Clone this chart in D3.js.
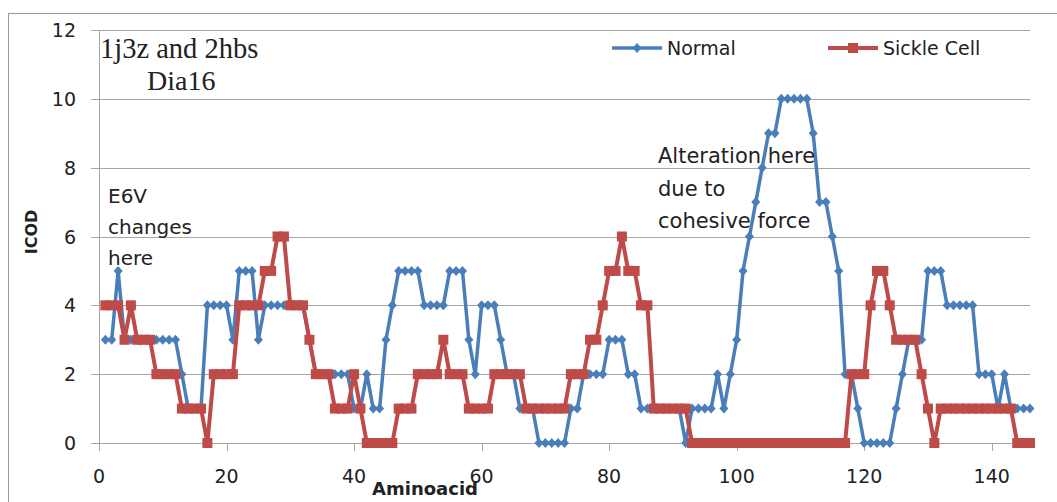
<!DOCTYPE html>
<html>
<head>
<meta charset="utf-8">
<script src="https://cdn.jsdelivr.net/npm/d3@7"></script>
<style>
body { margin: 0; background: #fff; }
text { font-family: "DejaVu Sans", sans-serif; fill: #222; }
</style>
</head>
<body>
<div id="chart"></div>
<script>
// ICOD per aminoacid position (1..146)
var normal = [
    3,3,5,3,3,3,3,3,3,3,3,3,
    2,1,1,1,4,4,4,4,3,5,5,5,
    3,4,4,4,4,4,4,4,3,2,2,2,
    2,2,2,1,1,2,1,1,3,4,5,5,
    5,5,4,4,4,4,5,5,5,3,2,4,
    4,4,3,2,2,1,1,1,0,0,0,0,
    0,1,1,2,2,2,2,3,3,3,2,2,
    1,1,1,1,1,1,1,0,1,1,1,1,
    2,1,2,3,5,6,7,8,9,9,10,10,
    10,10,10,9,7,7,6,5,2,2,1,0,
    0,0,0,0,1,2,3,3,3,5,5,5,
    4,4,4,4,4,2,2,2,1,2,1,1,
    1,1
];
var sickle = [
    4,4,4,3,4,3,3,3,2,2,2,2,
    1,1,1,1,0,2,2,2,2,4,4,4,
    4,5,5,6,6,4,4,4,3,2,2,2,
    1,1,1,2,1,0,0,0,0,0,1,1,
    1,2,2,2,2,3,2,2,2,1,1,1,
    1,2,2,2,2,2,1,1,1,1,1,1,
    1,2,2,2,3,3,4,5,5,6,5,5,
    4,4,1,1,1,1,1,1,0,0,0,0,
    0,0,0,0,0,0,0,0,0,0,0,0,
    0,0,0,0,0,0,0,0,0,2,2,2,
    4,5,5,4,3,3,3,3,2,1,0,1,
    1,1,1,1,1,1,1,1,1,1,1,0,
    0,0
];
var seriesNames = ["Normal", "Sickle Cell"];
var xTicks = [0, 20, 40, 60, 80, 100, 120, 140];
var yTicks = [0, 2, 4, 6, 8, 10, 12];

var width = 1057;
var height = 502;
var margin = { top: 30, right: 27, bottom: 59, left: 99 };

var blue = "#4a7ebb";
var red = "#be4b48";
var grid = "#a6a6a6";

var svg = d3.select("#chart")
    .append("svg")
    .attr("width", width)
    .attr("height", height);

// outer chart frame (right/bottom sides fall outside the picture)
svg.append("rect")
    .attr("x", 8.5).attr("y", 13.5)
    .attr("width", 1100).attr("height", 600)
    .attr("fill", "none")
    .attr("stroke", "#9a9a9a");

var x = d3.scaleLinear()
    .domain([0, 146])
    .range([margin.left, width - margin.right]);

var y = d3.scaleLinear()
    .domain([0, 12])
    .range([height - margin.bottom, margin.top]);

// gridlines + y ticks
svg.append("g")
    .selectAll("line")
    .data(yTicks)
    .join("line")
    .attr("x1", margin.left - 8)
    .attr("x2", width - margin.right)
    .attr("y1", d => Math.round(y(d)) + 0.5)
    .attr("y2", d => Math.round(y(d)) + 0.5)
    .attr("stroke", grid);

svg.append("g")
    .selectAll("text")
    .data(yTicks)
    .join("text")
    .attr("x", 76)
    .attr("y", d => y(d) + 7)
    .attr("text-anchor", "end")
    .attr("font-size", "19px")
    .text(d => d);

// y axis line
svg.append("line")
    .attr("x1", margin.left + 0.5).attr("x2", margin.left + 0.5)
    .attr("y1", y(12)).attr("y2", y(0) + 8)
    .attr("stroke", grid);

// x axis ticks + labels
svg.append("g")
    .selectAll("line")
    .data(xTicks)
    .join("line")
    .attr("x1", d => Math.round(x(d)) + 0.5)
    .attr("x2", d => Math.round(x(d)) + 0.5)
    .attr("y1", y(0))
    .attr("y2", y(0) + 8)
    .attr("stroke", grid);

svg.append("g")
    .selectAll("text")
    .data(xTicks)
    .join("text")
    .attr("x", d => x(d))
    .attr("y", 483)
    .attr("text-anchor", "middle")
    .attr("font-size", "19px")
    .text(d => d);

// axis titles
svg.append("text")
    .attr("x", 425).attr("y", 495)
    .attr("text-anchor", "middle")
    .attr("font-size", "18px")
    .attr("font-weight", "bold")
    .attr("fill", "#111")
    .text("Aminoacid");

svg.append("text")
    .attr("transform", "translate(37,232) rotate(-90)")
    .attr("text-anchor", "middle")
    .attr("font-size", "16px")
    .attr("font-weight", "bold")
    .attr("fill", "#111")
    .text("ICOD");

var line = d3.line()
    .x((d, i) => x(i + 1))
    .y(d => y(d));

var diamond = "M0,-5L4.5,0L0,5L-4.5,0Z";

// Normal series
svg.append("path")
    .datum(normal)
    .attr("d", line)
    .attr("fill", "none")
    .attr("stroke", blue)
    .attr("stroke-width", 3.5)
    .attr("stroke-linejoin", "round");

svg.append("g")
    .selectAll("path")
    .data(normal)
    .join("path")
    .attr("d", diamond)
    .attr("transform", (d, i) => "translate(" + x(i + 1) + "," + y(d) + ")")
    .attr("fill", blue);

// Sickle cell series
svg.append("path")
    .datum(sickle)
    .attr("d", line)
    .attr("fill", "none")
    .attr("stroke", red)
    .attr("stroke-width", 4)
    .attr("stroke-linejoin", "round");

svg.append("g")
    .selectAll("rect")
    .data(sickle)
    .join("rect")
    .attr("x", (d, i) => x(i + 1) - 5)
    .attr("y", d => y(d) - 5)
    .attr("width", 10)
    .attr("height", 10)
    .attr("fill", red);

// legend
var legend = svg.append("g");
var legendX = [612, 828];
var colors = [blue, red];
seriesNames.forEach(function (name, i) {
    var lx = legendX[i];
    legend.append("line")
        .attr("x1", lx).attr("x2", lx + 50)
        .attr("y1", 48).attr("y2", 48)
        .attr("stroke", colors[i])
        .attr("stroke-width", i == 0 ? 3.5 : 4);
    if (i == 0) {
        legend.append("path")
            .attr("d", diamond)
            .attr("transform", "translate(" + (lx + 25) + ",48)")
            .attr("fill", blue);
    } else {
        legend.append("rect")
            .attr("x", lx + 20).attr("y", 43)
            .attr("width", 10).attr("height", 10)
            .attr("fill", red);
    }
    legend.append("text")
        .attr("x", lx + 55)
        .attr("y", 55)
        .attr("font-size", "19px")
        .text(name);
});

// notes on the chart
function note(lines, x0, y0, step, size, family) {
    svg.append("g")
        .selectAll("text")
        .data(lines)
        .join("text")
        .attr("x", x0)
        .attr("y", (d, i) => y0 + i * step)
        .attr("font-size", size)
        .style("font-family", family)
        .text(d => d);
}
note(["1j3z and 2hbs"], 100, 58, 0, "28.5px", "'Liberation Serif', serif");
note(["Dia16"], 147, 90, 0, "28px", "'Liberation Serif', serif");
note(["E6V", "changes", "here"], 108, 203, 31, "20px", "'DejaVu Sans', sans-serif");
note(["Alteration here", "due to", "cohesive force"], 658, 163, 32.5, "21px", "'DejaVu Sans', sans-serif");
</script>
</body>
</html>
